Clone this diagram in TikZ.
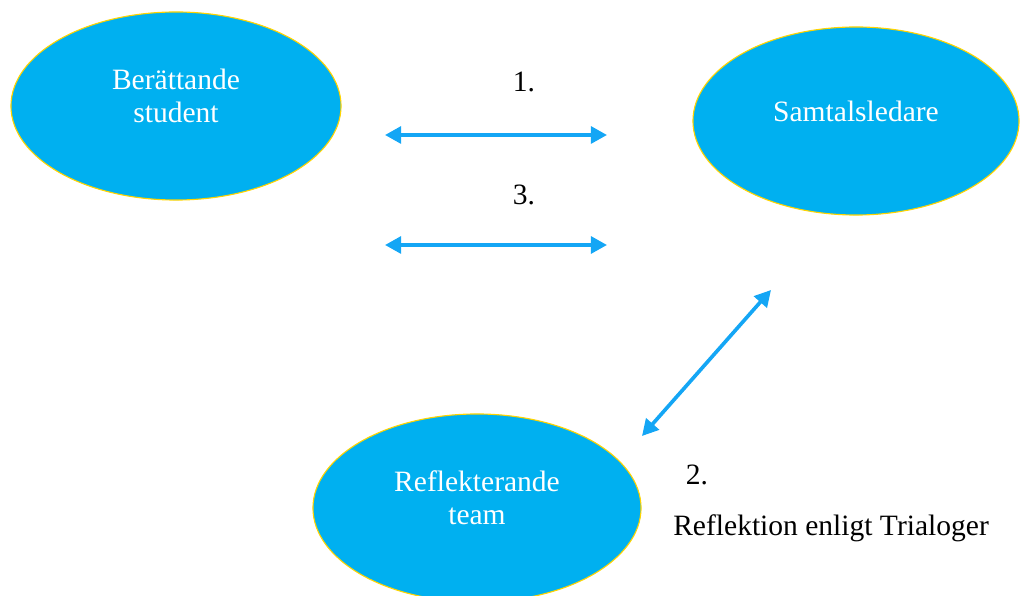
\documentclass[tikz,border=0pt]{standalone}
\usepackage{fontspec}
\setmainfont{Liberation Serif}
\usetikzlibrary{shapes,arrows.meta,positioning}
\definecolor{blobblue}{HTML}{00B0F0}
\definecolor{blobrim}{HTML}{FFD400}
\definecolor{linkblue}{HTML}{14A6F5}
\tikzset{
	blob/.style={ellipse,fill=blobblue,draw=blobrim,line width=0.8pt,inner sep=0pt,minimum width=8.25cm,minimum height=4.7cm},
	blobtext/.style={text=white,align=center,font=\fontsize{21}{23.5}\selectfont},
	link/.style={linkblue,line width=2.6pt,{Triangle[length=11.5pt,width=12pt]}-{Triangle[length=11.5pt,width=12pt]}},
	plain/.style={font=\fontsize{21}{23.5}\selectfont}
}

\begin{document}
\begin{tikzpicture}[x=0.025cm,y=-0.025cm]
			\useasboundingbox (0,0) rectangle (1020,596);
			\node[blob,label={[blobtext,yshift=0.25cm]center:Berättande\\student}] (student) at (176,106) {};
			\node[blob,minimum width=8.15cm,label={[blobtext,yshift=0.25cm]center:Samtalsledare}] (leader) at (856,121) {};
			\node[blob,minimum width=8.2cm,label={[blobtext,yshift=0.25cm]center:Reflekterande\\team}] (team) at (477,508) {};
			% endpoints of the exchanges
			\coordinate (a1) at (385,135);
			\coordinate (b1) at (607,135);
			\coordinate (a3) at (385,245);
			\coordinate (b3) at (607,245);
			\coordinate (a2) at (642,436);
			\coordinate (b2) at (771,290);
			\draw[link] (a1) -- (b1);
			\draw[link] (a3) -- (b3);
			\draw[link] (a2) -- (b2);
			\node[plain] (one) at (524,82) {1.};
			\node[plain] (three) at (524,195) {3.};
			\node[plain] (two) at (697,475) {2.};
			\node[plain,anchor=west,inner sep=0pt] (trialog) at (673,528) {Reflektion enligt Trialoger};
		\end{tikzpicture}
\end{document}
